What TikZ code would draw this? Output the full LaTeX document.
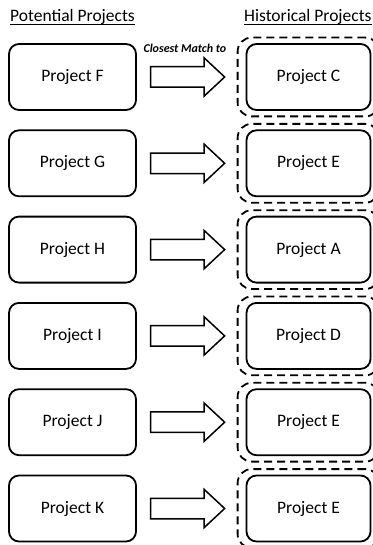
\documentclass[tikz,border=0pt]{standalone}
\usepackage{fontspec}
\setmainfont{Carlito}
\usetikzlibrary{calc,fit,shapes.arrows}
\newcommand{\headline}[1]{\setbox0\hbox{#1}\rlap{\rule[-2.8pt]{\wd0}{1pt}}\box0}

\tikzset{
  header/.style={inner sep=0pt, font=\fontsize{17.5}{21}\selectfont},
  project/.style={draw, line width=1.8pt, rounded corners=10pt,
    minimum width=127pt, minimum height=66pt, inner sep=0pt,
    font=\fontsize{17.5}{21}\selectfont},
  outline/.style={draw, line width=1.8pt, dash pattern=on 8pt off 5pt,
    rounded corners=14pt, inner xsep=8pt, inner ysep=5.5pt},
  matcharrow/.style={single arrow, draw, line width=1.5pt, anchor=tail,
    minimum height=74pt, inner xsep=0pt, inner ysep=9.5pt,
    single arrow head extend=9pt, single arrow tip angle=86},
  matchlabel/.style={inner sep=0pt, font=\fontsize{12}{14}\selectfont\bfseries\itshape}
}

\begin{document}
\begin{tikzpicture}[x=1pt, y=-1pt]
  %%%%% START %%%%%
  \useasboundingbox (0,0) rectangle (372,545);

  \node[header, anchor=base west] (potHead) at (10,22) {\headline{Potential Projects}};
  \node[header, anchor=base west] (histHead) at (244,22) {\headline{Historical Projects}};

  \foreach \pot/\hist [count=\i] in {F/C, G/E, H/A, I/D, J/E, K/E} {
    \node[project] (pot\i) at (72.5, {77+86.3*(\i-1)}) {Project \pot};
    \node[project, minimum width=124pt] (hist\i) at (308.5, {77+86.3*(\i-1)}) {Project \hist};
    \node[outline, fit=(hist\i)] (box\i) {};
    \node[matcharrow] (arr\i) at ($(pot\i.east)+(13,0)$) {};
  }

  \node[matchlabel] (matchLbl) at ($(arr1.tail)+(35,-29)$) {Closest Match to};
  %%%%% END %%%%%
\end{tikzpicture}
\end{document}
